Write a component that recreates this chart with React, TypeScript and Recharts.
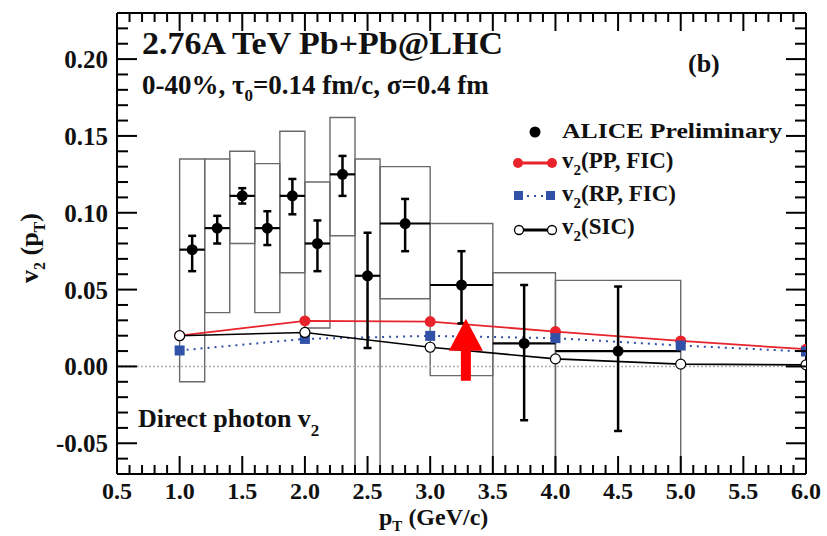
import React from "react";
import {
  ComposedChart,
  Line,
  Scatter,
  ErrorBar,
  XAxis,
  YAxis,
  ReferenceArea,
  ReferenceLine,
  ReferenceDot,
} from "recharts";

// ALICE preliminary direct photon v2
const aliceX = [1.1, 1.3, 1.5, 1.7, 1.9, 2.1, 2.3, 2.5, 2.8, 3.25, 3.75, 4.5];
const aliceY = [0.076, 0.09, 0.111, 0.09, 0.111, 0.08, 0.125, 0.059, 0.093, 0.053, 0.015, 0.01];
const aliceXErr = [0.1, 0.1, 0.1, 0.1, 0.1, 0.1, 0.1, 0.1, 0.2, 0.25, 0.25, 0.5];
const aliceYErrLow = [0.014, 0.01, 0.005, 0.011, 0.012, 0.018, 0.014, 0.047, 0.018, 0.025, 0.05, 0.052];
const aliceYErrHigh = [0.009, 0.008, 0.005, 0.011, 0.011, 0.015, 0.012, 0.028, 0.016, 0.022, 0.038, 0.042];
// systematic boxes
const sysLow = [-0.01, 0.035, 0.08, 0.035, 0.061, 0.025, 0.085, -0.07, 0.044, -0.006, -0.07, -0.07];
const sysHigh = [0.135, 0.135, 0.14, 0.132, 0.153, 0.12, 0.162, 0.135, 0.13, 0.093, 0.061, 0.056];

// model curves
const modelPt = [1, 2, 3, 4, 5, 6];
const ppFic = [0.02, 0.0296, 0.0292, 0.0227, 0.0166, 0.0112];
const rpFic = [0.0104, 0.0179, 0.0199, 0.0184, 0.0136, 0.0097];
const sic = [0.02, 0.0221, 0.0125, 0.0049, 0.0015, 0.001];

// arrow annotation (tip)
const arrowX = 3.285;
const arrowTip = 0.031;

const xMajor = [0.5, 1.0, 1.5, 2.0, 2.5, 3.0, 3.5, 4.0, 4.5, 5.0, 5.5, 6.0];
const yMajor = [-0.05, 0.0, 0.05, 0.1, 0.15, 0.2];

const xTicks: number[] = [];
for (let i = 5; i <= 60; i++) xTicks.push(i / 10);
const yTicks: number[] = [];
for (let i = -7; i <= 23; i++) yTicks.push(i / 100);

const isMajor = (v: number, list: number[]) => list.some((m) => Math.abs(m - v) < 1e-6);

const FONT = "'Liberation Serif', 'Times New Roman', serif";

const aliceData = aliceX.map((x, i) => ({
  x,
  y: aliceY[i],
  ex: aliceXErr[i],
  ey: [aliceYErrLow[i], aliceYErrHigh[i]],
}));
const toSeries = (vals: number[]) => modelPt.map((x, i) => ({ x, y: vals[i] }));

const BottomTick = (p: any) => {
  const { x, y, payload } = p;
  const major = isMajor(payload.value, xMajor);
  return (
    <g>
      <line x1={x} x2={x} y1={y} y2={y - (major ? 18 : 9)} stroke="#000" strokeWidth={2} />
      {major && (
        <text x={x} y={y + 25} textAnchor="middle" fontFamily={FONT} fontWeight="bold" fontSize={24} fill="#111">
          {payload.value.toFixed(1)}
        </text>
      )}
    </g>
  );
};
const TopTick = (p: any) => {
  const { x, y, payload } = p;
  const major = isMajor(payload.value, xMajor);
  return <line x1={x} x2={x} y1={y} y2={y + (major ? 18 : 9)} stroke="#000" strokeWidth={2} />;
};
const LeftTick = (p: any) => {
  const { x, y, payload } = p;
  const major = isMajor(payload.value, yMajor);
  return (
    <g>
      <line x1={x} x2={x + (major ? 20 : 11)} y1={y} y2={y} stroke="#000" strokeWidth={2} />
      {major && (
        <text x={x - 9} y={y + 9} textAnchor="end" fontFamily={FONT} fontWeight="bold" fontSize={25} fill="#111">
          {payload.value.toFixed(2)}
        </text>
      )}
    </g>
  );
};
const RightTick = (p: any) => {
  const { x, y, payload } = p;
  const major = isMajor(payload.value, yMajor);
  return <line x1={x} x2={x - (major ? 20 : 11)} y1={y} y2={y} stroke="#000" strokeWidth={2} />;
};

const Square = (p: any) => (
  <rect key={p.index} x={p.cx - 5} y={p.cy - 5} width={10} height={10} fill="#3150a8" />
);

const ArrowShape = (p: any) => {
  const { cx, cy } = p;
  return (
    <polygon
      points={`${cx},${cy} ${cx + 17},${cy + 32} ${cx + 5},${cy + 32} ${cx + 5},${cy + 62} ${cx - 5},${cy + 62} ${cx - 5},${cy + 32} ${cx - 17},${cy + 32}`}
      fill="#ff0000"
    />
  );
};

const Overlay = () => (
  <svg width={827} height={536} style={{ position: "absolute", left: 0, top: 0, pointerEvents: "none" }}>
    <g fontFamily={FONT} fontWeight="bold" fill="#111">
      <text x={142} y={54} fontSize={31} textLength={361} lengthAdjust="spacingAndGlyphs">
        2.76A TeV Pb+Pb@LHC
      </text>
      <text x={142} y={94} fontSize={27}>
        0-40%, τ<tspan dy={7} fontSize={17}>0</tspan>
        <tspan dy={-7}>=0.14 fm/c, σ=0.4 fm</tspan>
      </text>
      <text x={688} y={72} fontSize={26}>(b)</text>

      {/* legend */}
      <circle cx={535} cy={132} r={5.5} fill="#000" />
      <text x={562} y={138} fontSize={21} textLength={220} lengthAdjust="spacingAndGlyphs">ALICE Preliminary</text>

      <line x1={518} x2={552} y1={163} y2={163} stroke="#e8232b" strokeWidth={3} />
      <circle cx={518} cy={163} r={5} fill="#e8232b" />
      <circle cx={552} cy={163} r={5} fill="#e8232b" />
      <text x={562} y={168} fontSize={23}>
        v<tspan dy={7} fontSize={15}>2</tspan>
        <tspan dy={-7}>(PP, FIC)</tspan>
      </text>

      <line x1={520} x2={550} y1={196} y2={196} stroke="#3150a8" strokeWidth={2} strokeDasharray="2 5" />
      <rect x={514} y={191} width={9} height={9} fill="#3150a8" />
      <rect x={546} y={191} width={9} height={9} fill="#3150a8" />
      <text x={562} y={201} fontSize={23}>
        v<tspan dy={7} fontSize={15}>2</tspan>
        <tspan dy={-7}>(RP, FIC)</tspan>
      </text>

      <line x1={519} x2={552} y1={230} y2={230} stroke="#000" strokeWidth={3} />
      <circle cx={519} cy={230} r={4.5} fill="#fff" stroke="#000" strokeWidth={1.3} />
      <circle cx={552} cy={230} r={4.5} fill="#fff" stroke="#000" strokeWidth={1.3} />
      <text x={562} y={234} fontSize={23}>
        v<tspan dy={7} fontSize={15}>2</tspan>
        <tspan dy={-7}>(SIC)</tspan>
      </text>

      <text x={138} y={427} fontSize={26}>
        Direct photon v<tspan dy={9} fontSize={17}>2</tspan>
      </text>

      {/* axis titles */}
      <text x={379} y={525} fontSize={24}>
        p<tspan dy={6} fontSize={15}>T</tspan>
        <tspan dy={-6}> (GeV/c)</tspan>
      </text>
      <text transform="translate(38,283) rotate(-90)" fontSize={26}>
        v<tspan dy={7} fontSize={16}>2</tspan>
        <tspan dy={-7}> (p</tspan>
        <tspan dy={7} fontSize={16}>T</tspan>
        <tspan dy={-7}>)</tspan>
      </text>
    </g>
  </svg>
);

const axisLine = { stroke: "#000", strokeWidth: 2 };

export default function App() {
  return (
    <div style={{ position: "absolute", left: 0, top: 0, width: 827, height: 536, background: "#fff" }}>
      <ComposedChart width={827} height={536} margin={{ top: 12, right: 20, bottom: 61, left: 116 }}>
        <XAxis
          dataKey="x"
          type="number"
          domain={[0.5, 6]}
          ticks={xTicks}
          interval={0}
          allowDataOverflow
          height={1}
          tickSize={0}
          tickMargin={0}
          tickLine={false}
          axisLine={axisLine}
          tick={(p: any) => <BottomTick {...p} />}
        />
        <XAxis
          xAxisId="top"
          orientation="top"
          dataKey="x"
          type="number"
          domain={[0.5, 6]}
          ticks={xTicks}
          interval={0}
          allowDataOverflow
          height={1}
          tickSize={0}
          tickMargin={0}
          tickLine={false}
          axisLine={axisLine}
          tick={(p: any) => <TopTick {...p} />}
        />
        <YAxis
          type="number"
          domain={[-0.07, 0.23]}
          ticks={yTicks}
          interval={0}
          allowDataOverflow
          width={1}
          tickSize={0}
          tickMargin={0}
          tickLine={false}
          axisLine={axisLine}
          tick={(p: any) => <LeftTick {...p} />}
        />
        <YAxis
          yAxisId="right"
          orientation="right"
          type="number"
          domain={[-0.07, 0.23]}
          ticks={yTicks}
          interval={0}
          allowDataOverflow
          width={1}
          tickSize={0}
          tickMargin={0}
          tickLine={false}
          axisLine={axisLine}
          tick={(p: any) => <RightTick {...p} />}
        />

        {aliceX.map((x, i) => (
          <ReferenceArea
            key={"sys" + i}
            x1={x - aliceXErr[i]}
            x2={x + aliceXErr[i]}
            y1={sysLow[i]}
            y2={sysHigh[i]}
            fill="none"
            fillOpacity={0}
            stroke="#6a6a6a"
            strokeWidth={1.4}
            ifOverflow="visible"
          />
        ))}

        <ReferenceLine y={0} stroke="#b0b0b0" strokeWidth={1.5} strokeDasharray="2 2" />

        <Line
          data={toSeries(ppFic)}
          dataKey="y"
          stroke="#e8232b"
          strokeWidth={1.8}
          dot={{ r: 5.5, fill: "#e8232b", stroke: "none" }}
          isAnimationActive={false}
        />
        <Line
          data={toSeries(rpFic)}
          dataKey="y"
          stroke="#3150a8"
          strokeWidth={2}
          strokeDasharray="2 5"
          dot={Square}
          isAnimationActive={false}
        />
        <Line
          data={toSeries(sic)}
          dataKey="y"
          stroke="#000"
          strokeWidth={1.6}
          dot={{ r: 5, fill: "#fff", stroke: "#000", strokeWidth: 1.2 }}
          isAnimationActive={false}
        />

        <Scatter
          data={aliceData}
          dataKey="y"
          isAnimationActive={false}
          shape={(p: any) => <circle cx={p.cx} cy={p.cy} r={5.5} fill="#000" />}
        >
          <ErrorBar dataKey="ex" direction="x" width={0} stroke="#000" strokeWidth={2.2} />
          <ErrorBar dataKey="ey" direction="y" width={4} stroke="#000" strokeWidth={2.5} />
        </Scatter>

        <ReferenceDot x={arrowX} y={arrowTip} ifOverflow="visible" shape={ArrowShape} />
      </ComposedChart>
      <Overlay />
    </div>
  );
}
